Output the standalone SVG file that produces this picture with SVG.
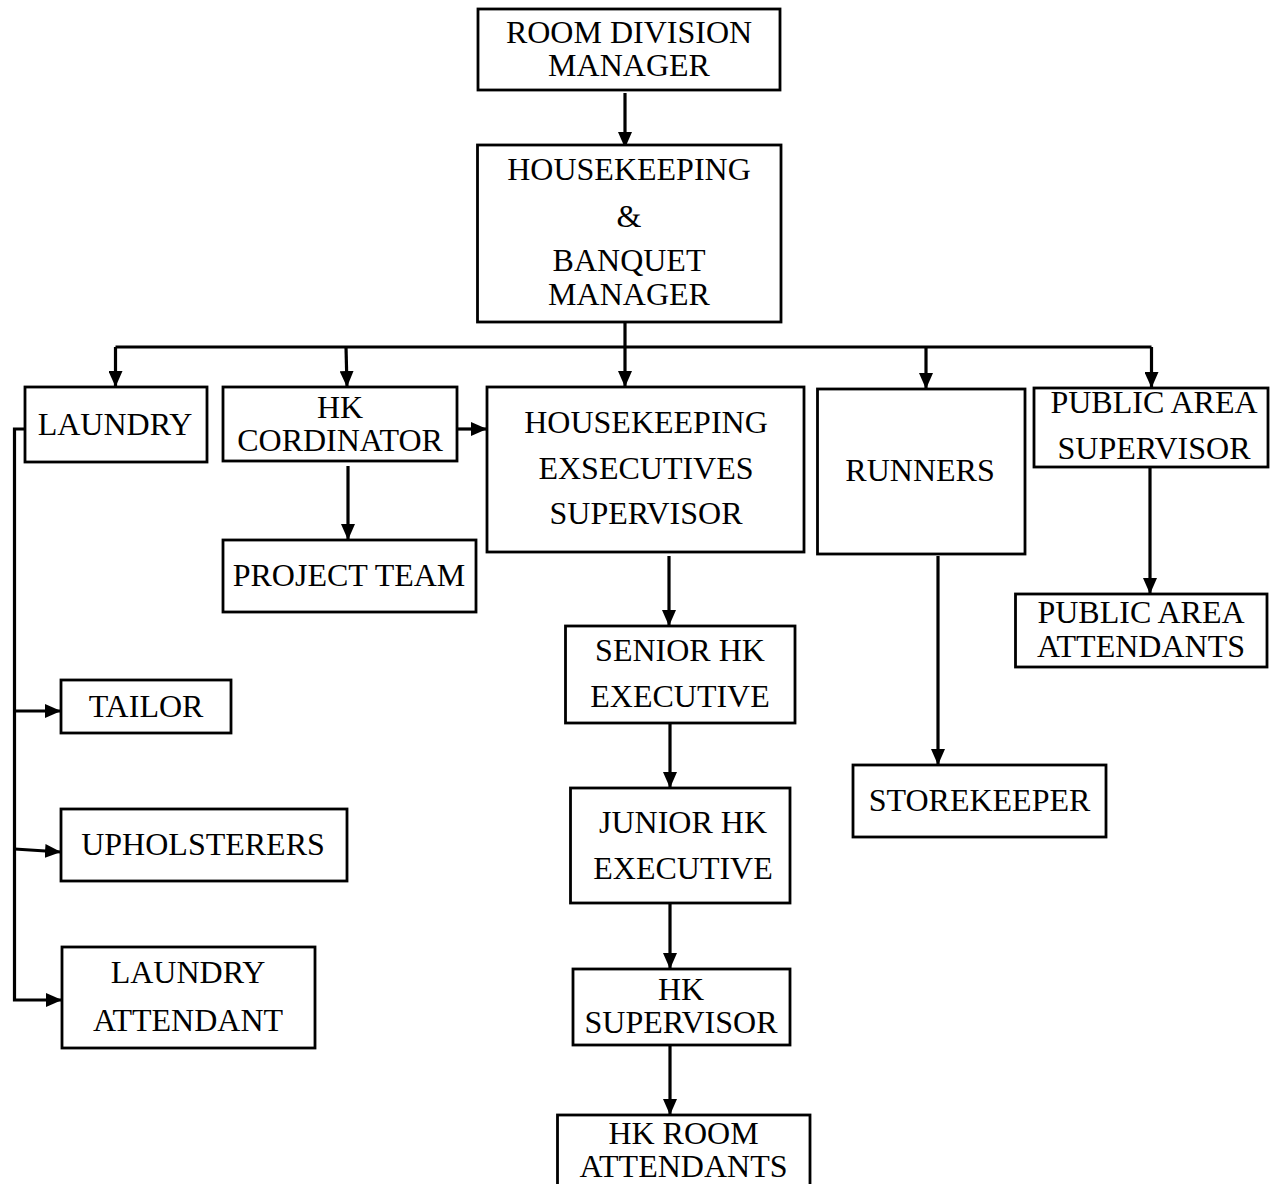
<svg xmlns="http://www.w3.org/2000/svg" width="1270" height="1184" viewBox="0 0 1270 1184">
<style>
  .box{fill:#fff;stroke:#000;stroke-width:2.8}
  .t{font-family:"Liberation Serif","Times New Roman",serif;font-size:32px;fill:#000;text-anchor:middle}
  .c{fill:none;stroke:#000;stroke-width:3.2}
</style>
<defs>
  <marker id="ah" viewBox="0 0 16 14" refX="16" refY="7" markerWidth="16" markerHeight="14" markerUnits="userSpaceOnUse" orient="auto">
    <path d="M0,0 L16,7 L0,14 z" fill="#000"/>
  </marker>
</defs>
<rect width="1270" height="1184" fill="#fff"/>
<g id="connectors">
  <path class="c" d="M625,93 V148" marker-end="url(#ah)"/>
  <path class="c" d="M625,322 V387" marker-end="url(#ah)"/>
  <path class="c" d="M115.5,347 H1151.5"/>
  <path class="c" d="M115.5,347 V387" marker-end="url(#ah)"/>
  <path class="c" d="M346,347 L347,387" marker-end="url(#ah)"/>
  <path class="c" d="M926,347 V389" marker-end="url(#ah)"/>
  <path class="c" d="M1151.5,347 V388" marker-end="url(#ah)"/>
  <path class="c" d="M457,429 H487" marker-end="url(#ah)"/>
  <path class="c" d="M348,466 V540" marker-end="url(#ah)"/>
  <path class="c" d="M669,556 V626" marker-end="url(#ah)"/>
  <path class="c" d="M670,723 V788" marker-end="url(#ah)"/>
  <path class="c" d="M670,903 V969" marker-end="url(#ah)"/>
  <path class="c" d="M670,1045 V1115" marker-end="url(#ah)"/>
  <path class="c" d="M938,556 V765" marker-end="url(#ah)"/>
  <path class="c" d="M1150,467 V594" marker-end="url(#ah)"/>
  <path class="c" d="M25,429 H14.5 V1000 H62" marker-end="url(#ah)"/>
  <path class="c" d="M14.5,711 H61" marker-end="url(#ah)"/>
  <path class="c" d="M14.5,849 L61,852" marker-end="url(#ah)"/>
</g>
<g id="n-rdm"><rect class="box" x="478" y="9" width="302" height="81"/>
  <text class="t" x="629" y="43">ROOM DIVISION</text><text class="t" x="629" y="76">MANAGER</text></g>
<g id="n-hkb"><rect class="box" x="477.5" y="145" width="303.5" height="177"/>
  <text class="t" x="629" y="180">HOUSEKEEPING</text><text class="t" x="629" y="227">&amp;</text>
  <text class="t" x="629" y="271">BANQUET</text><text class="t" x="629" y="305">MANAGER</text></g>
<g id="n-laundry"><rect class="box" x="25" y="387" width="182" height="75"/>
  <text class="t" x="115" y="435">LAUNDRY</text></g>
<g id="n-hkc"><rect class="box" x="223" y="387" width="234" height="74"/>
  <text class="t" x="340" y="418">HK</text><text class="t" x="340" y="451">CORDINATOR</text></g>
<g id="n-hkes"><rect class="box" x="487" y="387" width="317" height="165"/>
  <text class="t" x="646" y="433">HOUSEKEEPING</text><text class="t" x="646" y="479">EXSECUTIVES</text><text class="t" x="646" y="524">SUPERVISOR</text></g>
<g id="n-runners"><rect class="box" x="817.5" y="389" width="207.5" height="165"/>
  <text class="t" x="920" y="481">RUNNERS</text></g>
<g id="n-pas"><rect class="box" x="1034" y="388" width="234" height="79"/>
  <text class="t" x="1154" y="413">PUBLIC AREA</text><text class="t" x="1154" y="459">SUPERVISOR</text></g>
<g id="n-pt"><rect class="box" x="223" y="540" width="253" height="72"/>
  <text class="t" x="349" y="586">PROJECT TEAM</text></g>
<g id="n-paa"><rect class="box" x="1015.5" y="594" width="251.5" height="73"/>
  <text class="t" x="1141" y="623">PUBLIC AREA</text><text class="t" x="1141" y="657">ATTENDANTS</text></g>
<g id="n-senior"><rect class="box" x="565.5" y="626" width="229.5" height="97"/>
  <text class="t" x="680" y="661">SENIOR HK</text><text class="t" x="680" y="707">EXECUTIVE</text></g>
<g id="n-tailor"><rect class="box" x="61" y="680" width="170" height="53"/>
  <text class="t" x="146" y="717">TAILOR</text></g>
<g id="n-store"><rect class="box" x="853" y="765" width="253" height="72"/>
  <text class="t" x="979.5" y="811">STOREKEEPER</text></g>
<g id="n-junior"><rect class="box" x="570.5" y="788" width="219.5" height="115"/>
  <text class="t" x="683" y="833">JUNIOR HK</text><text class="t" x="683" y="879">EXECUTIVE</text></g>
<g id="n-uphol"><rect class="box" x="61" y="809" width="286" height="72"/>
  <text class="t" x="203" y="855">UPHOLSTERERS</text></g>
<g id="n-la"><rect class="box" x="62" y="947" width="253" height="101"/>
  <text class="t" x="188" y="983">LAUNDRY</text><text class="t" x="188" y="1031">ATTENDANT</text></g>
<g id="n-hks"><rect class="box" x="573" y="969" width="217" height="76"/>
  <text class="t" x="681" y="1000">HK</text><text class="t" x="681" y="1033">SUPERVISOR</text></g>
<g id="n-hkra"><rect class="box" x="557.5" y="1115" width="252.5" height="80"/>
  <text class="t" x="683.5" y="1144">HK ROOM</text><text class="t" x="683.5" y="1177">ATTENDANTS</text></g>
</svg>
